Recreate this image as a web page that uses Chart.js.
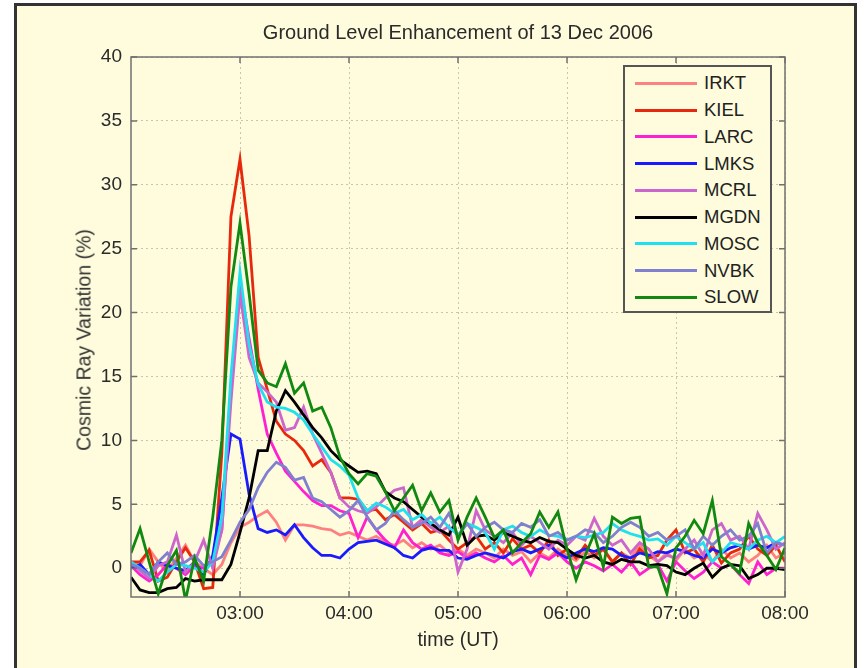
<!DOCTYPE html>
<html>
<head>
<meta charset="utf-8">
<title>Ground Level Enhancement of 13 Dec 2006</title>
<script src="https://cdn.jsdelivr.net/npm/chart.js@4.4.1/dist/chart.umd.min.js"></script>
<style>
  html, body { margin: 0; padding: 0; background: #fff; }
  #wrap { position: relative; width: 866px; height: 668px; overflow: hidden; }
  #frame { position: absolute; left: 14px; top: 3px; width: 837px; height: 700px; background: #fefcdc; border: 3px solid #333; }
  #chart { position: absolute; left: 0; top: 0; }
  #ylabel { position: absolute; left: 84px; top: 340px; transform: translate(-50%, -50%) rotate(-90deg);
            white-space: nowrap; font: 19.5px 'Liberation Sans', Arial, sans-serif; color: #333; }
  #legend { position: absolute; left: 623px; top: 65px; width: 145px; height: 244px; background: #fefcdc; border: 2px solid #555; }
  #legend .row { position: absolute; left: 0; height: 26.75px; display: flex; align-items: center; }
  #legend .swatch { margin-left: 10px; width: 62px; height: 3px; }
  #legend .name { margin-left: 7px; font: 18.5px 'Liberation Sans', Arial, sans-serif; color: #222; }
</style>
</head>
<body>
<div id="wrap">
  <div id="frame"></div>
  <canvas id="chart" width="866" height="668"></canvas>
  <div id="ylabel">Cosmic Ray Variation (%)</div>
  <div id="legend"></div>
</div>
<script>
// 5-minute samples, 02:00 - 08:00 UT
const times = [
  '02:00','02:05','02:10','02:15','02:20','02:25','02:30','02:35','02:40','02:45','02:50','02:55',
  '03:00','03:05','03:10','03:15','03:20','03:25','03:30','03:35','03:40','03:45','03:50','03:55',
  '04:00','04:05','04:10','04:15','04:20','04:25','04:30','04:35','04:40','04:45','04:50','04:55',
  '05:00','05:05','05:10','05:15','05:20','05:25','05:30','05:35','05:40','05:45','05:50','05:55',
  '06:00','06:05','06:10','06:15','06:20','06:25','06:30','06:35','06:40','06:45','06:50','06:55',
  '07:00','07:05','07:10','07:15','07:20','07:25','07:30','07:35','07:40','07:45','07:50','07:55',
  '08:00'
];

const stationNames = ['IRKT', 'KIEL', 'LARC', 'LMKS', 'MCRL', 'MGDN', 'MOSC', 'NVBK', 'SLOW'];
const lineColors = ['#ff8080', '#e8280c', '#ff20d0', '#1a1aff', '#cc66cc', '#000000', '#20e0f0', '#8080d0', '#118811'];

const irkt = [
  0.5, 0.2, 1.5, 0.5, -0.3, 0.8, 1.8, 0.5, 0.0, -0.5, 0.3, 2.0,
  3.2, 3.6, 4.1, 4.5, 3.6, 2.2, 3.4, 3.4, 3.3, 3.1, 3.0, 2.6,
  2.8, 2.5, 2.2, 2.5, 2.0, 1.8, 2.2, 1.6, 2.0, 1.5, 1.8, 1.2,
  1.5, 1.0, 1.5, 1.2, 0.8, 1.5, 1.0, 1.3, 0.5, 1.2, 0.8, 1.5,
  1.0, 0.6, 1.3, 0.8, 1.5, 0.5, 1.2, 0.8, 1.8, 1.0, 0.5, 1.2,
  0.6, 1.5, 0.8, 1.2, 0.5, 1.5, 0.8, 1.2, 0.5, 1.0, 1.8, 0.8,
  1.2
];
const kiel = [
  0.5, 0.5, 1.4, -1.0, -0.7, 0.5, 1.6, 0.5, -1.6, -1.5, 9.0, 27.5,
  32.0, 26.0, 16.5, 14.0, 11.5, 10.5, 10.0, 9.2, 8.0, 8.5, 7.5, 5.5,
  5.5, 5.4, 4.5, 4.6, 3.8, 4.2, 3.6, 3.0, 3.5, 2.8, 3.0, 2.2,
  1.5, 2.0, 2.5, 1.5, 2.0, 1.2, 2.3, 1.5, 1.8, 1.2, 2.2, 1.0,
  1.5, 0.8, 1.8, 1.0, 1.5, 0.5, 1.2, 0.3, 1.5, 0.8, 1.0, 2.2,
  3.0, 1.2, 1.5, 0.5, 1.8, 0.4, 1.2, 1.5, 2.5, 1.5, 1.0, 1.8,
  0.5
];
const larc = [
  0.2, -0.5, -1.0, -0.5, 0.3, 0.0, -0.5, 0.2, 0.0, 0.5, 3.0, 14.0,
  22.3, 18.0, 14.0, 10.5, 9.0, 7.6, 6.8, 6.0, 5.3, 4.9, 4.9, 4.5,
  4.3, 2.4, 4.0, 3.0, 2.2, 1.6, 3.0, 2.0, 1.5, 1.8, 1.2, 1.0,
  1.3, 0.8, 1.2, 0.8, 0.5, 1.0, 0.3, 0.8, -0.5, 1.0, 0.7, 1.2,
  0.5, 0.0, 0.5, 0.2, -0.2, 0.3, -0.3, 0.5, -0.5, 0.0, 0.3, -1.0,
  0.5, -0.2, -0.8, -0.3, 0.5, 0.0, 0.3, -0.5, -1.2, 0.5, -0.5, 0.0,
  0.0
];
const lmks = [
  0.0, 0.3, -0.5, 0.5, 0.2, 0.0, -0.2, 0.5, -0.5, 1.0, 5.5, 10.5,
  10.1, 5.8, 3.1, 2.8, 3.0, 2.6, 3.4, 2.4, 1.6, 1.0, 1.0, 0.8,
  1.5, 2.0, 2.1, 2.2, 1.9, 1.6, 1.0, 0.8, 1.4, 1.6, 1.4, 1.4,
  0.8, 0.7, 1.0, 1.2, 1.0, 0.8, 1.3, 1.5, 1.2, 1.5, 1.8, 1.2,
  0.8, 1.2, 1.5, 1.3, 1.6, 1.5, 1.0, 0.8, 1.2, 1.0, 1.3, 1.2,
  1.5, 1.3, 1.0, 0.8, 1.5, 1.2, 1.6, 1.8, 1.5, 1.8, 1.6, 2.0,
  1.8
];
const mcrl = [
  0.5, -0.2, -0.8, 0.2, 0.5, 2.6, -0.3, 0.5, 2.2, 0.0, 3.0, 13.0,
  21.5, 16.5, 14.5, 13.8, 13.0, 10.8, 11.0, 12.6, 10.5, 9.0, 7.5, 5.5,
  4.8, 4.5, 4.3, 4.8, 5.5, 6.1, 6.3, 3.2, 3.8, 3.2, 2.8, 3.3,
  -0.3, 1.5, 4.5, 3.0, 2.5, 2.0, 2.8, 1.8, 2.5, 2.0, 1.5, 2.2,
  1.8, 2.5, 2.2, 3.9, 2.5, 1.8, 2.2, 1.2, 2.0, 1.5, 0.5, 1.0,
  0.8, 1.5, 2.2, 1.0, 3.0, 3.5, 2.2, 2.5, 1.5, 4.3, 3.0, 1.5,
  2.0
];
const mgdn = [
  -0.7, -1.7, -1.9, -1.9, -1.6, -1.5, -0.8, -1.0, -0.9, -0.9, -0.9, 0.3,
  2.8, 5.5, 9.2, 9.2, 12.3, 13.9, 13.0, 12.0, 11.0, 10.2, 9.2, 8.5,
  8.0, 7.5, 7.6, 7.4, 6.0, 5.5, 5.2, 4.6, 4.0, 3.5, 3.0, 2.6,
  4.0, 1.8, 2.5, 2.6, 2.2, 2.8, 2.5, 2.2, 2.0, 2.4, 2.1, 2.0,
  1.5, 1.0, 0.8, 1.0, 0.5, 0.3, 0.7, 0.5, 0.5, 0.2, 0.3, 0.2,
  -0.3, -0.5, 0.0, 0.4, -0.7, 0.0, 0.3, 0.2, -0.8, -0.5, 0.0, 0.0,
  -0.1
];
const mosc = [
  0.5, 0.0, -0.5, -1.0, -0.3, 0.3, 0.2, 0.0, -0.3, 0.5, 4.0, 15.0,
  23.2, 17.5, 14.4, 13.0, 12.6, 12.5, 12.2, 11.6, 10.5, 9.5, 8.5, 8.0,
  7.3, 5.5, 4.5, 5.1, 4.8, 4.3, 4.6, 3.8, 4.2, 3.5, 4.0, 3.2,
  2.6, 3.5, 3.2, 2.8, 1.5, 3.0, 3.3, 2.8, 2.5, 3.0, 2.6, 2.5,
  2.2, 2.5, 2.4, 2.6, 2.8, 3.5, 3.0, 2.7, 2.5, 2.2, 2.3, 1.8,
  2.5, 2.0, 1.5, 2.0, 0.5, 1.2, 2.0, 1.8, 1.5, 2.2, 2.5, 2.0,
  2.5
];
const nvbk = [
  0.3, 0.0, -0.5, 0.5, 1.2, 0.3, 0.5, 1.0, 0.2, 0.5, 0.9, 2.2,
  3.6, 4.6, 6.3, 7.5, 8.3, 7.9, 6.9, 7.1, 5.5, 5.2, 4.6, 4.0,
  4.5, 5.3, 4.0, 3.0, 3.5, 4.5, 3.8, 3.2, 3.5, 4.0, 3.2, 4.3,
  2.5, 3.5, 2.5, 3.2, 3.6, 3.0, 2.8, 3.5, 3.2, 3.8, 2.5, 2.8,
  2.2, 2.5, 3.0, 2.8, 2.0, 2.5, 3.2, 3.6, 3.2, 2.5, 2.8, 2.2,
  2.5, 3.0, 1.5, 2.5, 1.8, 2.5, 3.0, 2.2, 2.5, 3.5, 1.2, 2.0,
  1.8
];
const slow = [
  1.2, 3.1, 0.5, -2.0, 0.2, 1.4, -2.5, 0.8, -1.0, 4.0, 10.0, 22.0,
  27.0, 21.5, 15.5, 14.5, 14.2, 16.0, 13.7, 14.5, 12.3, 12.6, 11.0, 8.7,
  7.4, 6.6, 7.4, 7.2, 6.0, 4.5, 5.5, 6.5, 4.5, 5.9, 4.4, 5.3,
  2.2, 4.0, 5.5, 4.0, 2.4, 3.0, 1.2, 2.0, 2.7, 4.4, 3.2, 4.4,
  1.5, -0.9, 1.0, 2.7, 0.1, 4.0, 3.5, 3.9, 4.0, 0.1, 0.1, -2.0,
  1.6, 2.5, 3.75, 2.7, 5.3, 0.9, 0.3, -0.4, 3.5, 2.0, 1.0, -0.1,
  1.6
];

const xTickLabels = ['03:00', '04:00', '05:00', '06:00', '07:00', '08:00'];
const yTicks = [0, 5, 10, 15, 20, 25, 30, 35, 40];

const seriesValues = [irkt, kiel, larc, lmks, mcrl, mgdn, mosc, nvbk, slow];

function toHours(s) {
  const [h, m] = s.split(':').map(Number);
  return h + m / 60;
}
function fmtHour(v) {
  const h = Math.round(v);
  return (h < 10 ? '0' : '') + h + ':00';
}

const hours = times.map(toHours);
const fontFamily = "'Liberation Sans', Arial, sans-serif";

const datasets = stationNames.map((name, k) => ({
  label: name,
  data: seriesValues[k].map((v, i) => ({ x: hours[i], y: v })),
  borderColor: lineColors[k],
  backgroundColor: lineColors[k],
  borderWidth: 2.8,
  pointRadius: 0,
  tension: 0,
  order: stationNames.length - k   // later stations drawn on top
}));

// axes box with inward ticks, like the original figure
const axesBox = {
  id: 'axesBox',
  afterDatasetsDraw(chart) {
    const { ctx, chartArea: a, scales: { x, y } } = chart;
    ctx.save();
    ctx.strokeStyle = '#707070';
    ctx.lineWidth = 1.5;
    ctx.strokeRect(a.left, a.top, a.right - a.left, a.bottom - a.top);
    ctx.beginPath();
    x.ticks.forEach(t => {
      const px = x.getPixelForValue(t.value);
      ctx.moveTo(px, a.bottom); ctx.lineTo(px, a.bottom - 6);
      ctx.moveTo(px, a.top); ctx.lineTo(px, a.top + 6);
    });
    y.ticks.forEach(t => {
      const py = y.getPixelForValue(t.value);
      ctx.moveTo(a.left, py); ctx.lineTo(a.left + 6, py);
      ctx.moveTo(a.right, py); ctx.lineTo(a.right - 6, py);
    });
    ctx.stroke();
    ctx.restore();
  }
};

new Chart(document.getElementById('chart').getContext('2d'), {
  type: 'line',
  data: { datasets },
  options: {
    responsive: false,
    animation: false,
    events: [],
    layout: { padding: { top: 0, right: 81, bottom: 0, left: 0 } },
    plugins: {
      legend: { display: false },
      tooltip: { enabled: false },
      title: {
        display: true,
        text: 'Ground Level Enhancement of 13 Dec 2006',
        fullSize: false,
        color: '#2a2a2a',
        font: { family: fontFamily, size: 20, weight: 'normal' },
        padding: { top: 21, bottom: 12 }
      }
    },
    scales: {
      x: {
        type: 'linear',
        min: toHours('02:00'),
        max: toHours('08:00'),
        afterBuildTicks: scale => { scale.ticks = xTickLabels.map(s => ({ value: toHours(s) })); },
        afterFit: scale => { scale.height = 71; },
        ticks: {
          callback: v => fmtHour(v),
          color: '#2a2a2a',
          font: { family: fontFamily, size: 19 },
          padding: 5,
          maxRotation: 0
        },
        grid: { color: 'rgba(120,115,100,0.4)', lineWidth: 1, drawTicks: false },
        border: { display: false, dash: [2, 3] },
        title: {
          display: true,
          text: 'time (UT)',
          color: '#2a2a2a',
          font: { family: fontFamily, size: 19.5 },
          padding: { top: 0, bottom: 16 }
        }
      },
      y: {
        type: 'linear',
        min: -2.25,
        max: 40,
        afterBuildTicks: scale => { scale.ticks = yTicks.map(v => ({ value: v })); },
        afterFit: scale => { scale.width = 131; },
        ticks: {
          color: '#2a2a2a',
          font: { family: fontFamily, size: 19 },
          padding: 9
        },
        grid: { color: 'rgba(120,115,100,0.4)', lineWidth: 1, drawTicks: false },
        border: { display: false, dash: [2, 3] }
      }
    }
  },
  plugins: [axesBox]
});

// legend box, drawn in the top-right corner of the axes
const legendEl = document.getElementById('legend');
stationNames.forEach((name, k) => {
  const row = document.createElement('div');
  row.className = 'row';
  row.style.top = (3 + k * 26.75) + 'px';
  row.innerHTML = '<span class="swatch" style="background:' + lineColors[k] + '"></span>' +
                  '<span class="name">' + name + '</span>';
  legendEl.appendChild(row);
});
</script>
</body>
</html>
